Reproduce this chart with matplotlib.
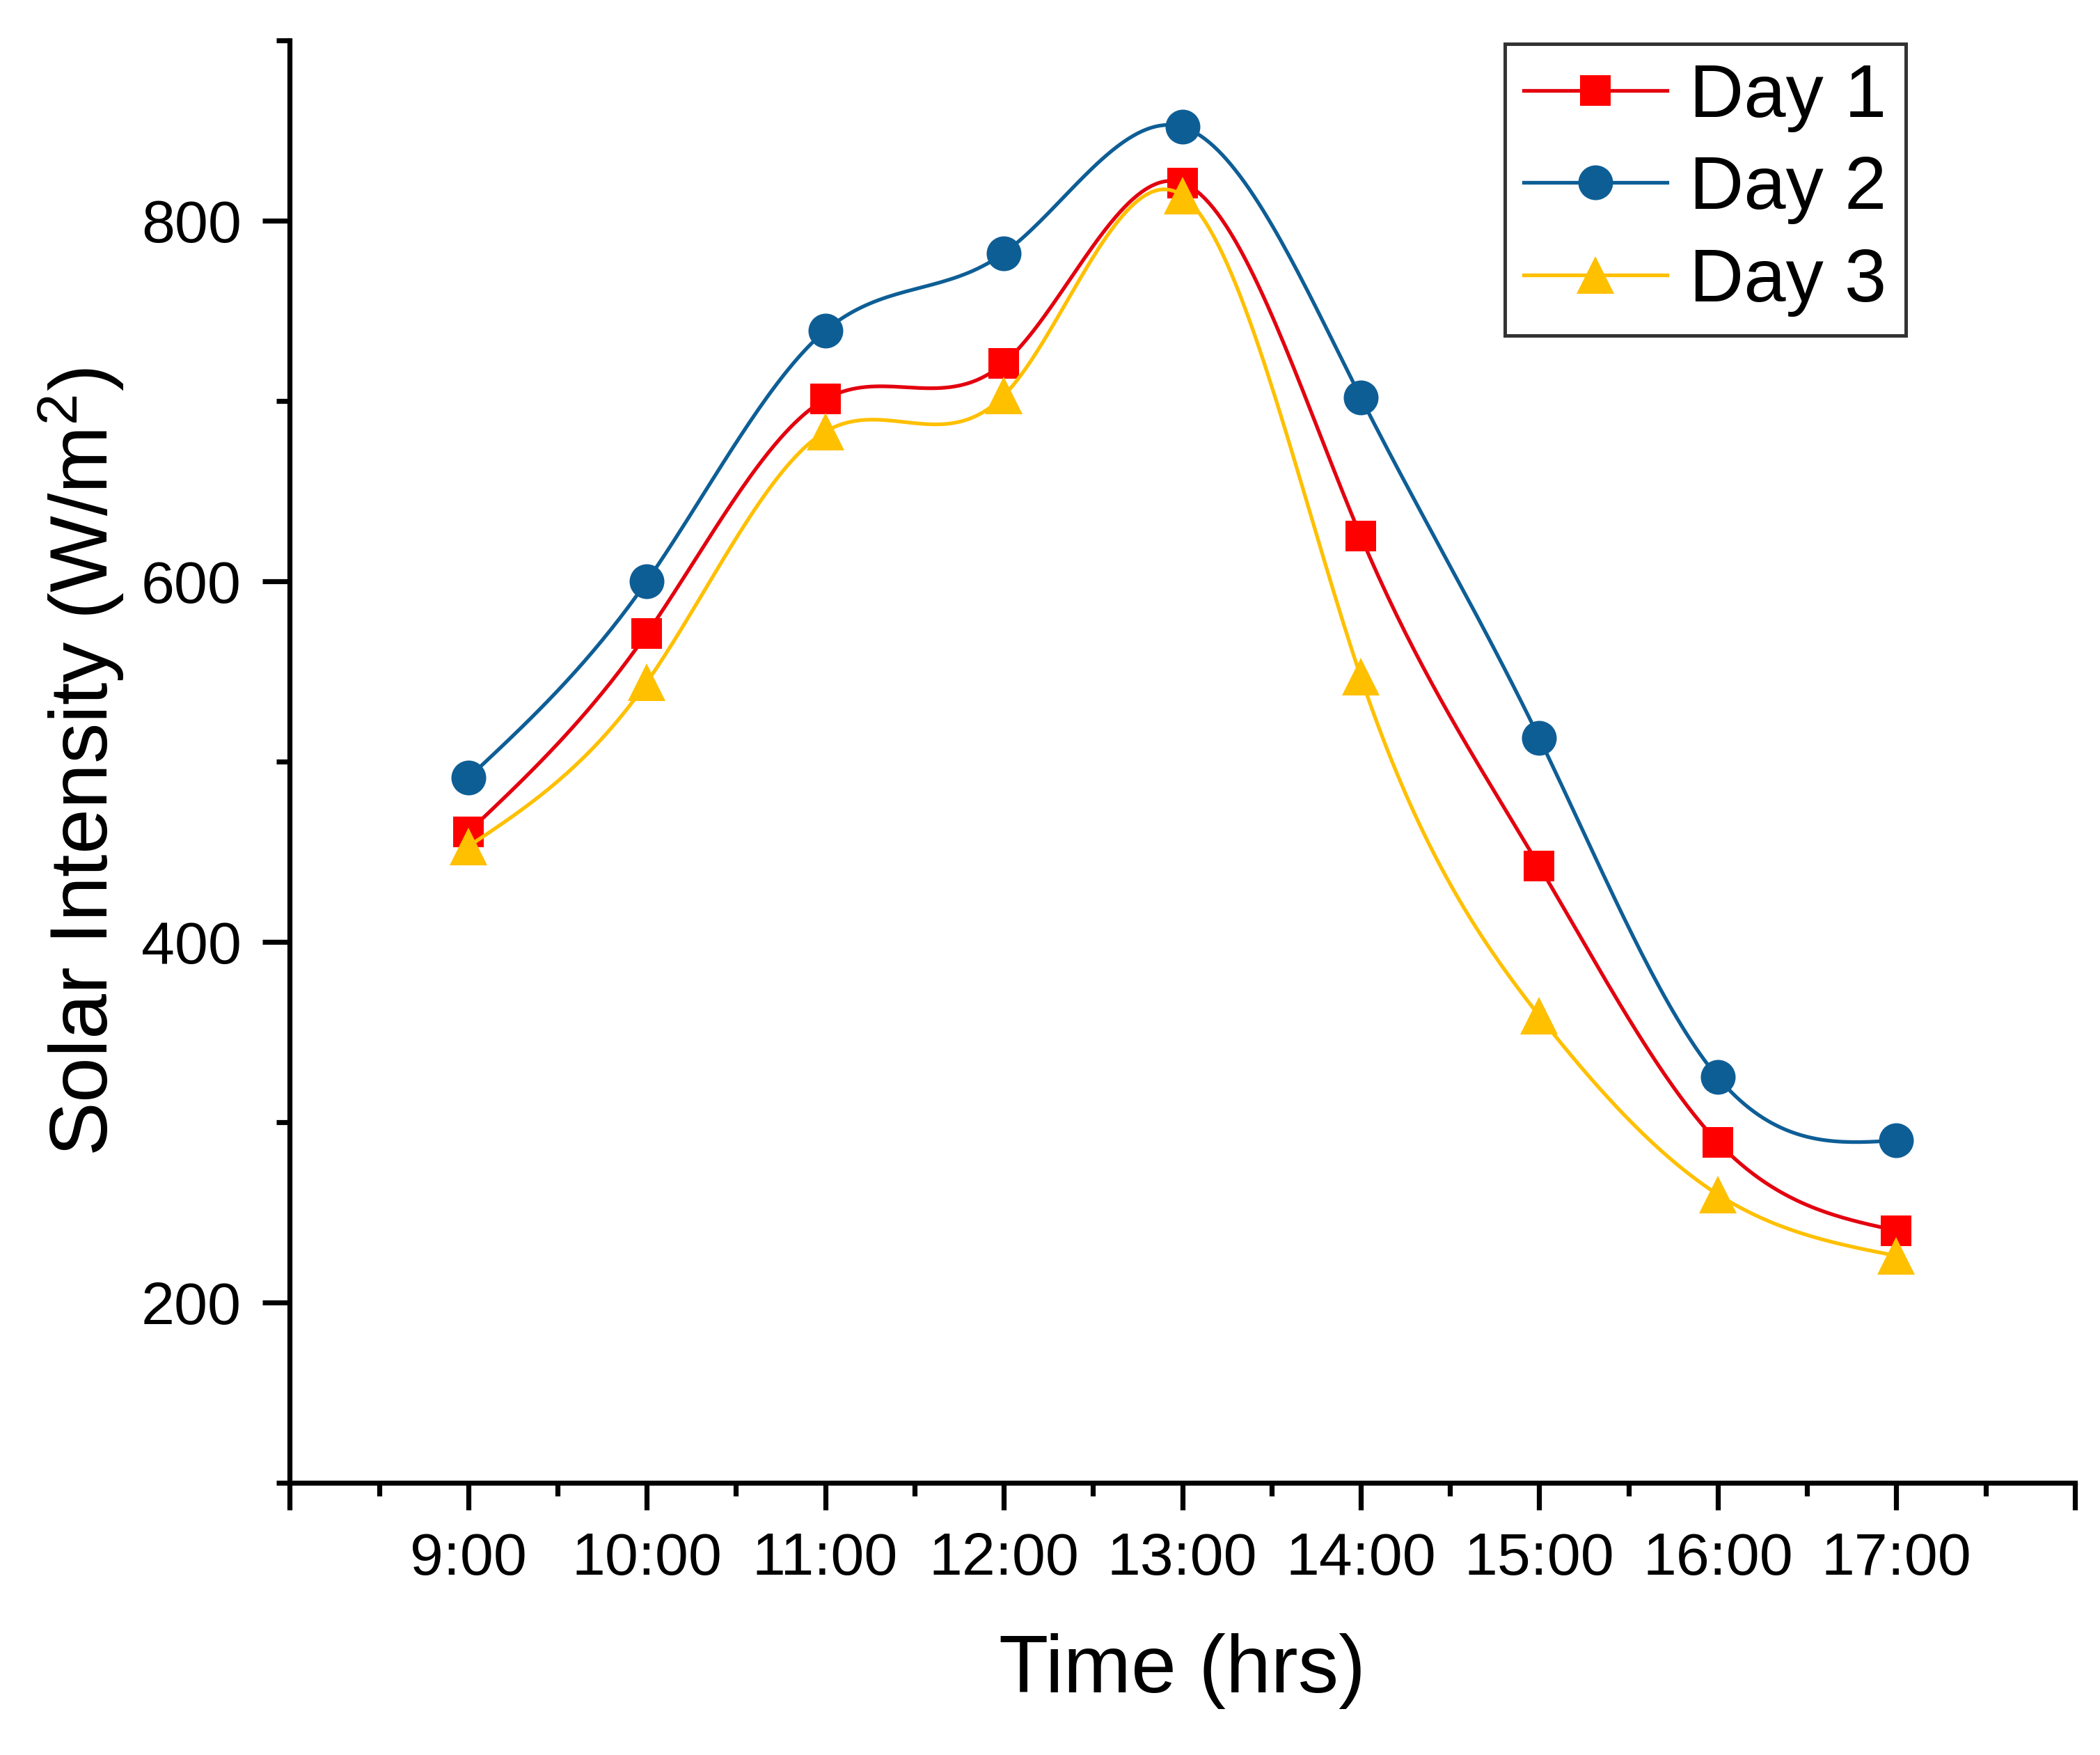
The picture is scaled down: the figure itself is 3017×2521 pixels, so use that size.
import matplotlib
matplotlib.use('Agg')
import matplotlib.pyplot as plt
from matplotlib.ticker import FixedLocator, MultipleLocator
import numpy as np

plt.rcParams['font.family'] = ['Liberation Sans', 'DejaVu Sans']
plt.rcParams['mathtext.default'] = 'regular'

hours = [9, 10, 11, 12, 13, 14, 15, 16, 17]
hour_labels = ['9:00', '10:00', '11:00', '12:00', '13:00', '14:00', '15:00', '16:00', '17:00']
day1 = [461, 571, 701, 721, 821, 625, 442, 289, 240]
day2 = [491, 600, 739, 782, 852, 702, 513, 325, 290]
day3 = [453, 544, 683, 703, 814, 547, 359, 260, 226]


def natural_spline(x, y, n=40):
    """Natural cubic spline through (x, y); returns dense x, y and marker indices."""
    x = np.asarray(x, float)
    y = np.asarray(y, float)
    k = len(x)
    h = np.diff(x)
    A = np.zeros((k, k))
    b = np.zeros(k)
    A[0, 0] = 1
    A[-1, -1] = 1
    for i in range(1, k - 1):
        A[i, i - 1] = h[i - 1]
        A[i, i] = 2 * (h[i - 1] + h[i])
        A[i, i + 1] = h[i]
        b[i] = 3 * ((y[i + 1] - y[i]) / h[i] - (y[i] - y[i - 1]) / h[i - 1])
    c = np.linalg.solve(A, b)
    xs, ys = [], []
    for i in range(k - 1):
        bi = (y[i + 1] - y[i]) / h[i] - h[i] * (2 * c[i] + c[i + 1]) / 3
        di = (c[i + 1] - c[i]) / (3 * h[i])
        t = np.linspace(0, h[i], n, endpoint=False)
        xs.append(x[i] + t)
        ys.append(y[i] + bi * t + c[i] * t ** 2 + di * t ** 3)
    xs.append([x[-1]])
    ys.append([y[-1]])
    return np.concatenate(xs), np.concatenate(ys), list(range(0, n * (k - 1) + 1, n))


fig = plt.figure(figsize=(3017 / 200, 2521 / 200), dpi=200)
ax = fig.add_axes([0.138, 0.155, 0.85, 0.822])

series = [
    (day1, 'Day 1', '#E3000F', '#FF0000', 's', 16),
    (day2, 'Day 2', '#0E5E96', '#0E5E96', 'o', 18),
    (day3, 'Day 3', '#FFC000', '#FFC000', '^', 19.5),
]
for vals, name, lc, mc, mk, ms in series:
    xs, ys, idx = natural_spline(hours, vals)
    ax.plot(xs, ys, color=lc, lw=1.9, marker=mk, markevery=idx, ms=ms,
            mfc=mc, mec=mc, mew=0, label=name)

ax.set_xlim(8, 18)
ax.set_ylim(100, 900)
ax.xaxis.set_minor_locator(MultipleLocator(0.5))
ax.set_xticks(range(8, 19))
ax.set_xticklabels([''] + hour_labels + [''])
ax.yaxis.set_major_locator(FixedLocator([200, 400, 600, 800]))
ax.yaxis.set_minor_locator(FixedLocator([100, 300, 500, 700, 900]))

for side in ['top', 'right']:
    ax.spines[side].set_visible(False)
for side in ['left', 'bottom']:
    ax.spines[side].set_linewidth(2.6)

ax.tick_params(which='major', direction='out', length=14, width=2.6,
               labelsize=31, pad=11)
ax.tick_params(which='minor', direction='out', length=7, width=2.6)

ax.set_xlabel('Time (hrs)', fontsize=42, labelpad=24)
ax.set_ylabel('Solar Intensity (W/m$^2$)', fontsize=42, labelpad=8)

leg = ax.legend(loc='upper right', bbox_to_anchor=(0.9095, 1.003), fontsize=39,
                frameon=True, fancybox=False, edgecolor='black',
                handlelength=1.9, handletextpad=0.3, borderpad=0.25,
                labelspacing=0.3, borderaxespad=0.1)
leg.get_frame().set_linewidth(1.8)

fig.savefig('out.png', dpi=200)
